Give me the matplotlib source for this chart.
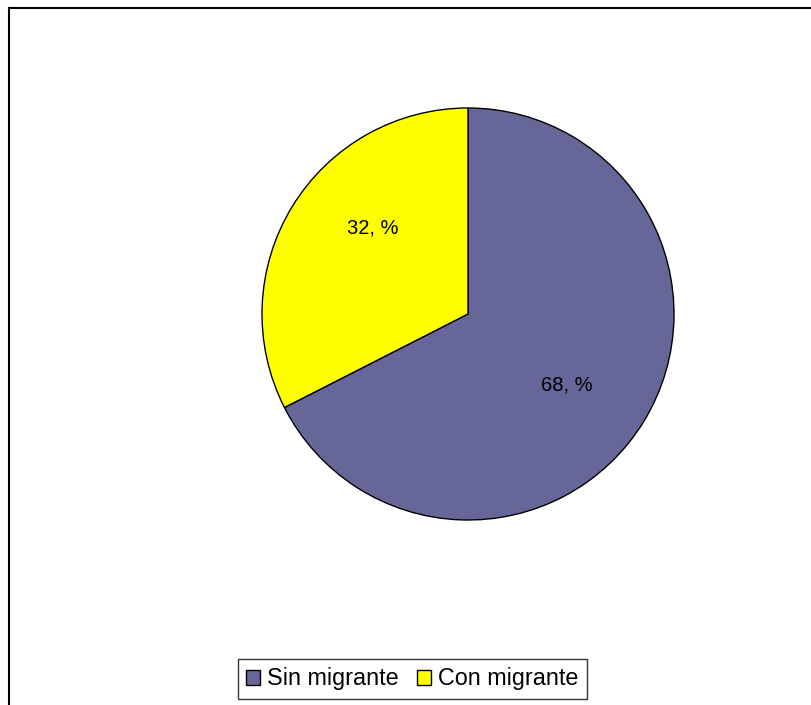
import matplotlib
matplotlib.use("Agg")
import matplotlib.pyplot as plt
from matplotlib.lines import Line2D

categorias = ["Sin migrante", "Con migrante"]
valores = [67.5, 32.5]
etiquetas = ["68, %", "32, %"]
colores = ["#666699", "#FFFF00"]
# posiciones de las etiquetas (en radios del pastel)
pos_etiquetas = [(0.48, -0.345), (-0.46, 0.417)]

plt.rcParams["font.family"] = ["Liberation Sans", "DejaVu Sans"]

fig = plt.figure(figsize=(8.11, 7.05), dpi=100)

# marco del grafico (solo se ven los bordes izquierdo y superior)
fig.add_artist(Line2D([8.5 / 811, 8.5 / 811], [0, 1 - 7.5 / 705], color="black", lw=1.5))
fig.add_artist(Line2D([8.5 / 811, 1], [1 - 7.5 / 705, 1 - 7.5 / 705], color="black", lw=1.5))

ax = fig.add_axes([262 / 811, 1 - 520 / 705, 412 / 811, 412 / 705])
wedges, textos = ax.pie(valores, labels=etiquetas, colors=colores, startangle=90,
                        counterclock=False, labeldistance=0.6,
                        wedgeprops=dict(edgecolor="black", linewidth=1),
                        textprops=dict(fontsize=14.5, ha="center", va="center"))
for t, p in zip(textos, pos_etiquetas):
    t.set_position(p)
    t.set_ha("center")
ax.set_xlim(-1, 1)
ax.set_ylim(-1, 1)
ax.set_aspect("equal")

leg = fig.legend(wedges, categorias, loc="center", bbox_to_anchor=(412 / 811, 1 - 679 / 705),
                 ncol=2, fontsize=16.8, frameon=True, fancybox=False, edgecolor="black",
                 handlelength=0.6, handleheight=0.6, handletextpad=0.3, columnspacing=0.8,
                 borderpad=0.35)
leg.get_frame().set_linewidth(1)

fig.savefig("out.png", dpi=100)
